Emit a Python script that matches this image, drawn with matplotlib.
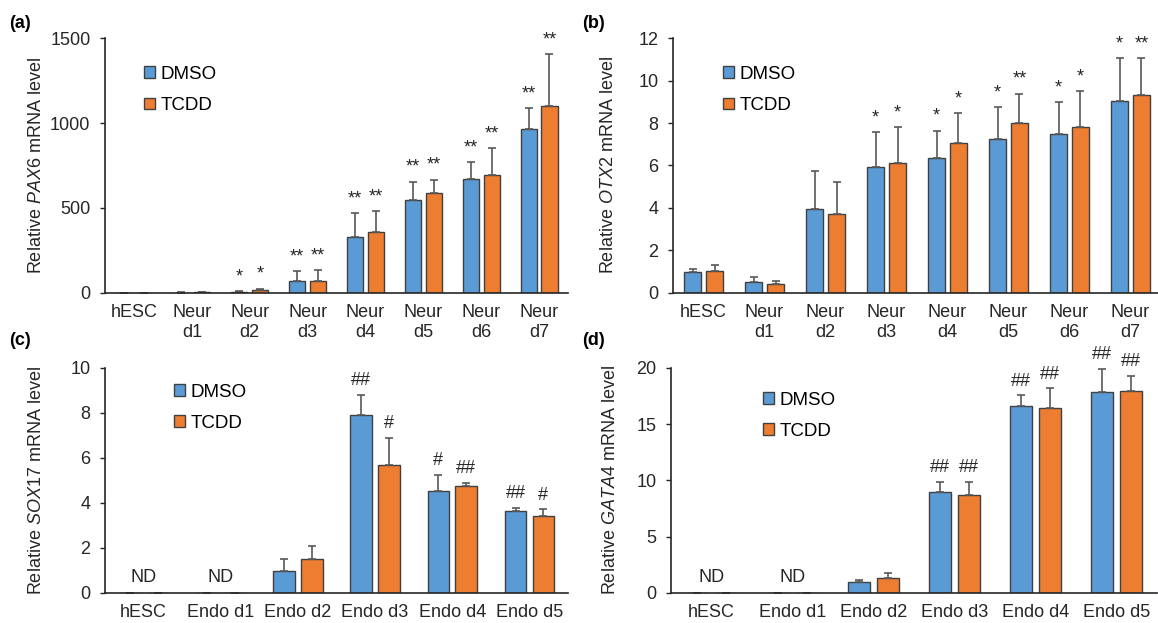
import numpy as np
import matplotlib
matplotlib.use("Agg")
import matplotlib.pyplot as plt

plt.rcParams["font.family"] = ["Liberation Sans", "DejaVu Sans"]
plt.rcParams["mathtext.fontset"] = "custom"
plt.rcParams["mathtext.rm"] = "Liberation Sans"
plt.rcParams["mathtext.it"] = "Liberation Sans:italic"

BLUE = "#5B9BD5"
ORANGE = "#ED7D31"
EDGE = "#404040"

# (a) PAX6
neur_labels = ["hESC", "Neur\nd1", "Neur\nd2", "Neur\nd3", "Neur\nd4", "Neur\nd5", "Neur\nd6", "Neur\nd7"]
pax6_dmso = [1, 2, 8, 73, 329, 547, 673, 965]
pax6_dmso_err = [0.5, 1, 4, 55, 143, 108, 98, 123]
pax6_tcdd = [1, 3, 18, 73, 359, 586, 692, 1102]
pax6_tcdd_err = [0.5, 1, 8, 62, 121, 81, 161, 304]
pax6_dmso_sig = ["", "", "*", "**", "**", "**", "**", "**"]
pax6_tcdd_sig = ["", "", "*", "**", "**", "**", "**", "**"]

# (b) OTX2
otx2_dmso = [0.99, 0.52, 3.97, 5.91, 6.35, 7.26, 7.48, 9.02]
otx2_dmso_err = [0.14, 0.25, 1.76, 1.67, 1.29, 1.48, 1.49, 2.04]
otx2_tcdd = [1.04, 0.44, 3.72, 6.12, 7.06, 7.98, 7.80, 9.32]
otx2_tcdd_err = [0.26, 0.14, 1.50, 1.68, 1.41, 1.40, 1.70, 1.72]
otx2_dmso_sig = ["", "", "", "*", "*", "*", "*", "*"]
otx2_tcdd_sig = ["", "", "", "*", "*", "**", "*", "**"]

# (c) SOX17
endo_labels = ["hESC", "Endo d1", "Endo d2", "Endo d3", "Endo d4", "Endo d5"]
sox17_dmso = [0, 0, 0.99, 7.91, 4.55, 3.66]
sox17_dmso_err = [0, 0, 0.52, 0.90, 0.69, 0.12]
sox17_tcdd = [0, 0, 1.51, 5.69, 4.74, 3.41]
sox17_tcdd_err = [0, 0, 0.56, 1.21, 0.15, 0.31]
sox17_dmso_sig = ["", "", "", "##", "#", "##"]
sox17_tcdd_sig = ["", "", "", "#", "##", "#"]

# (d) GATA4
gata4_dmso = [0, 0, 0.98, 8.98, 16.65, 17.87]
gata4_dmso_err = [0, 0, 0.18, 0.89, 0.92, 2.04]
gata4_tcdd = [0, 0, 1.33, 8.74, 16.44, 17.99]
gata4_tcdd_err = [0, 0, 0.45, 1.13, 1.75, 1.30]
gata4_dmso_sig = ["", "", "", "##", "##", "##"]
gata4_tcdd_sig = ["", "", "", "##", "##", "##"]

nd_labels = ["ND", "ND", "", "", "", ""]


def draw_panel(ax, labels, dmso, dmso_err, tcdd, tcdd_err, dmso_sig, tcdd_sig,
               ymax, ystep, ylabel, legend_xy, nd=None):
    x = np.arange(len(labels))
    w = 0.28
    off = 0.18
    err_kw = dict(ecolor="#595959", elinewidth=1.2, capsize=2.8, capthick=1.2)
    ax.bar(x - off, dmso, w, color=BLUE, edgecolor=EDGE, linewidth=1,
           yerr=[np.zeros(len(x)), dmso_err], error_kw=err_kw, label="DMSO")
    ax.bar(x + off, tcdd, w, color=ORANGE, edgecolor=EDGE, linewidth=1,
           yerr=[np.zeros(len(x)), tcdd_err], error_kw=err_kw, label="TCDD")

    for i in range(len(x)):
        for xpos, val, err, sig in [(x[i] - off, dmso[i], dmso_err[i], dmso_sig[i]),
                                    (x[i] + off, tcdd[i], tcdd_err[i], tcdd_sig[i])]:
            if sig:
                ax.annotate(sig, (xpos, val + err), xytext=(0, 7), textcoords="offset points",
                            ha="center", va="baseline", fontsize=13, color="#262626")
        if nd and nd[i]:
            ax.annotate(nd[i], (x[i], 0), xytext=(0, 8), textcoords="offset points",
                        ha="center", va="baseline", fontsize=13, color="#262626")

    ax.set_xlim(-0.5, len(x) - 0.5)
    ax.set_ylim(0, ymax)
    ax.set_yticks(np.arange(0, ymax + ystep / 2, ystep))
    ax.set_xticks(x)
    ax.set_xticklabels(labels)
    ax.tick_params(axis="x", length=0, pad=8, labelsize=13, colors="#262626")
    ax.tick_params(axis="y", length=3.5, width=1, pad=7, labelsize=13, colors="#262626")
    for side in ["top", "right"]:
        ax.spines[side].set_visible(False)
    for side in ["left", "bottom"]:
        ax.spines[side].set_linewidth(1.2)
        ax.spines[side].set_color("#262626")
    ax.set_ylabel(ylabel, fontsize=13, color="#262626")
    ax.legend(loc="upper left", bbox_to_anchor=legend_xy, frameon=False, fontsize=13.5,
              handlelength=0.6, handleheight=0.6, handletextpad=0.3, labelspacing=0.75,
              borderpad=0, borderaxespad=0)


fig = plt.figure(figsize=(11.58, 6.23), dpi=100)

ax_a = fig.add_axes([0.0907, 0.5297, 0.3998, 0.4093])
ax_b = fig.add_axes([0.5812, 0.5297, 0.4214, 0.4093])
ax_c = fig.add_axes([0.0907, 0.0482, 0.3998, 0.3612])
ax_d = fig.add_axes([0.5794, 0.0482, 0.4197, 0.3612])

draw_panel(ax_a, neur_labels, pax6_dmso, pax6_dmso_err, pax6_tcdd, pax6_tcdd_err,
           pax6_dmso_sig, pax6_tcdd_sig, 1500, 500,
           r"Relative $\mathit{PAX6}$ mRNA level", (0.084, 0.89))
draw_panel(ax_b, neur_labels, otx2_dmso, otx2_dmso_err, otx2_tcdd, otx2_tcdd_err,
           otx2_dmso_sig, otx2_tcdd_sig, 12, 2,
           r"Relative $\mathit{OTX2}$ mRNA level", (0.102, 0.89))
draw_panel(ax_c, endo_labels, sox17_dmso, sox17_dmso_err, sox17_tcdd, sox17_tcdd_err,
           sox17_dmso_sig, sox17_tcdd_sig, 10, 2,
           r"Relative $\mathit{SOX17}$ mRNA level", (0.149, 0.93), nd=nd_labels)
draw_panel(ax_d, endo_labels, gata4_dmso, gata4_dmso_err, gata4_tcdd, gata4_tcdd_err,
           gata4_dmso_sig, gata4_tcdd_sig, 20, 5,
           r"Relative $\mathit{GATA4}$ mRNA level", (0.189, 0.895), nd=nd_labels)

ax_a.yaxis.set_label_coords(-0.13, 0.5)
ax_b.yaxis.set_label_coords(-0.115, 0.5)
ax_c.yaxis.set_label_coords(-0.13, 0.5)
ax_d.yaxis.set_label_coords(-0.107, 0.5)

for txt, xf, yf in [("(a)", 0.008, 1 - 23 / 623), ("(b)", 0.503, 1 - 23 / 623),
                    ("(c)", 0.008, 1 - 340 / 623), ("(d)", 0.503, 1 - 340 / 623)]:
    fig.text(xf, yf, txt, fontsize=13, fontweight="bold", va="center", ha="left")

fig.savefig("out.png", dpi=100)
